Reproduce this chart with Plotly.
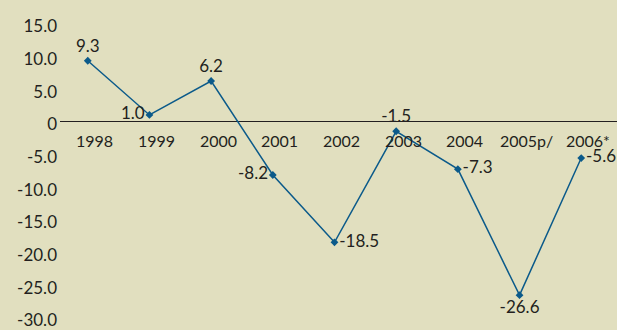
import plotly.graph_objects as go

categories = ["1998", "1999", "2000", "2001", "2002", "2003", "2004", "2005p/", "2006*"]
values = [9.3, 1.0, 6.2, -8.2, -18.5, -1.5, -7.3, -26.6, -5.6]
value_labels = ["9.3", "1.0", "6.2", "-8.2", "-18.5", "-1.5", "-7.3", "-26.6", "-5.6"]
y_tick_values = [15, 10, 5, 0, -5, -10, -15, -20, -25, -30]
y_tick_labels = ["15.0", "10.0", "5.0", "0", "-5.0", "-10.0", "-15.0", "-20.0", "-25.0", "-30.0"]

label_positions = ["top center", "middle left", "top center", "middle left", "middle right",
                   "top center", "middle right", "bottom center", "middle right"]

BG = "#e1dfbf"
LINE = "#0b5a8a"
TEXT = "#231f20"
FONT = "Lato"

fig = go.Figure()
fig.add_trace(go.Scatter(
    x=categories, y=values,
    mode="lines+markers+text",
    line=dict(color=LINE, width=1.5),
    marker=dict(symbol="diamond", size=6, color=LINE),
    text=value_labels,
    textposition=label_positions,
    textfont=dict(family=FONT, size=17, color=TEXT),
    cliponaxis=False,
    hoverinfo="skip",
))

for i, c in enumerate(categories):
    fig.add_annotation(x=i, y=0, text=c, showarrow=False, yanchor="top", yshift=-8, xshift=7,
                       font=dict(family=FONT, size=16, color=TEXT))

fig.update_layout(
    width=617, height=330,
    margin=dict(l=60, r=0, t=0, b=0),
    paper_bgcolor=BG, plot_bgcolor=BG,
    showlegend=False,
    font=dict(family=FONT, size=17, color=TEXT),
)
fig.update_xaxes(type="category", range=[-0.45, 8.58], showticklabels=False,
                 showgrid=False, zeroline=False, showline=False, ticks="")
fig.update_yaxes(range=[-30.4, 18.6], tickvals=y_tick_values, ticktext=y_tick_labels,
                 showgrid=False, zeroline=True, zerolinecolor=TEXT, zerolinewidth=1.2,
                 showline=False, ticks="", ticklabelshift=3, ticklabelstandoff=2,
                 ticklabeloverflow="allow",
                 tickfont=dict(family=FONT, size=17, color=TEXT))

fig.write_html("out.html", config={"displayModeBar": False},
               post_script="document.body.style.margin='0';document.body.style.overflow='hidden';")
